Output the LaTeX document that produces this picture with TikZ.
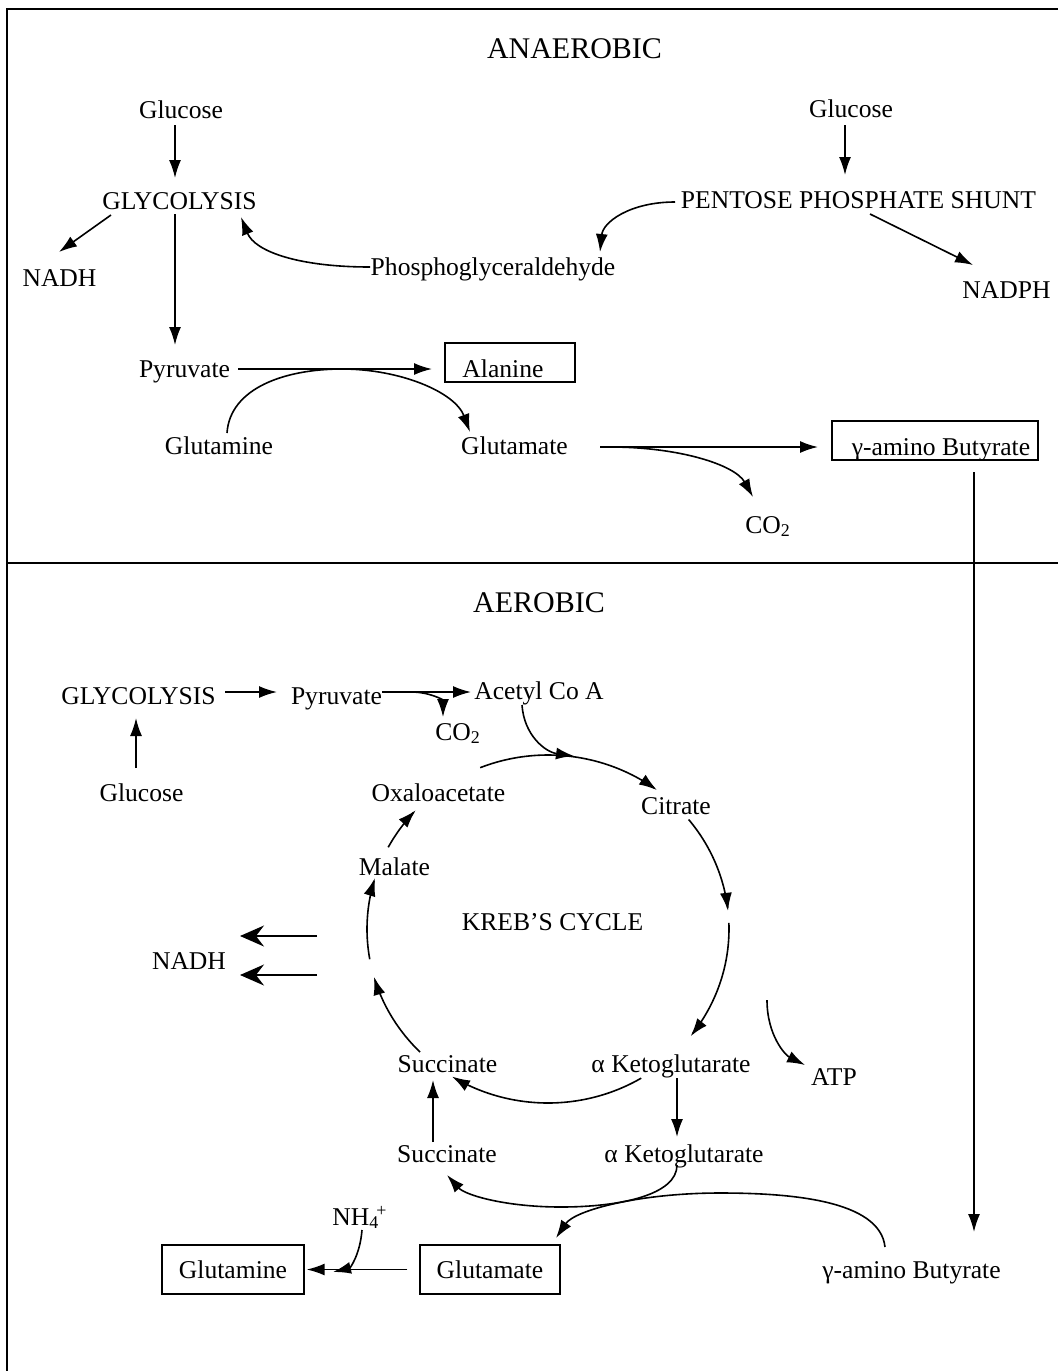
\documentclass[tikz,border=0pt]{standalone}
\usepackage{fontspec}
\setmainfont{Liberation Serif}
\usetikzlibrary{arrows.meta}
\begin{document}
\begin{tikzpicture}[x=0.5pt,y=-0.5pt,
  lbl/.style={inner sep=0pt, anchor=base, font=\fontsize{12.8}{15}\selectfont},
  ttl/.style={inner sep=0pt, anchor=base, font=\fontsize{15}{18}\selectfont},
  boxn/.style={draw, line width=0.65pt, inner sep=0pt, font=\fontsize{12.8}{15}\selectfont},
  arr/.style={line width=0.8pt, -{Latex[length=9pt,width=6pt]}},
  bigarr/.style={line width=0.8pt, -{Stealth[length=12pt,width=10.5pt,inset=4pt]}},
  frame/.style={line width=0.9pt}]
\useasboundingbox (0,0) rectangle (1058,1371);
% frame
\draw[frame] (7,1371) -- (7,9) -- (1058,9);
\draw[frame] (7,563) -- (1058,563);

% ---------- ANAEROBIC ----------
\node[ttl] (tana) at (574.5,58) {ANAEROBIC};
\node[lbl] (glcA) at (181,118) {Glucose};
\node[lbl] (glyA) at (179.5,209) {GLYCOLYSIS};
\node[lbl] (nadhA) at (59.5,286) {NADH};
\node[lbl] (glcB) at (851,117) {Glucose};
\node[lbl] (pps) at (858.5,208) {PENTOSE PHOSPHATE SHUNT};
\node[lbl] (nadph) at (1006.5,298) {NADPH};
\node[lbl] (pga) at (493,275) {Phosphoglyceraldehyde};
\node[lbl] (pyrA) at (184.5,377) {Pyruvate};
\node[boxn, minimum width=65pt, minimum height=19.5pt] (alabox) at (510,362.5) {};
\node[lbl, anchor=base west] (ala) at (462,377) {Alanine};
\node[lbl] (glnA) at (219,454) {Glutamine};
\node[lbl] (gluA) at (514.5,454) {Glutamate};
\node[boxn, minimum width=103pt, minimum height=19.5pt] (gababox) at (935,440.5) {};
\node[lbl] (gabaA) at (941,455) {γ-amino Butyrate};
\node[lbl, anchor=base west] (co2A) at (745,533) {CO\textsubscript{2}};

\coordinate (a1s) at (175,125);  \coordinate (a1e) at (175,178);
\coordinate (a2s) at (111,215);  \coordinate (a2e) at (59,252);
\coordinate (a3s) at (175,214);  \coordinate (a3e) at (175,345);
\coordinate (a4s) at (845,125);  \coordinate (a4e) at (845,175);
\coordinate (a5s) at (870,214);  \coordinate (a5e) at (973,265);
\coordinate (a6s) at (675,202);  \coordinate (a6e) at (600,252);
\coordinate (a7s) at (370,267);  \coordinate (a7e) at (241,217);
\coordinate (a8s) at (238,369);  \coordinate (a8e) at (432,369);
\coordinate (a9s) at (227,433);  \coordinate (a9m) at (342,369); \coordinate (a9e) at (470,432);
\coordinate (a10s) at (600,447); \coordinate (a10e) at (818,447);
\coordinate (a11s) at (610,447); \coordinate (a11e) at (753,497);
\coordinate (a12s) at (974,472); \coordinate (a12e) at (974,1232);

\draw[arr] (a1s) -- (a1e);
\draw[arr] (a2s) -- (a2e);
\draw[arr] (a3s) -- (a3e);
\draw[arr] (a4s) -- (a4e);
\draw[arr] (a5s) -- (a5e);
\draw[arr] (a6s) .. controls (630,202) and (603,222) .. (a6e);
\draw[arr] (a7s) .. controls (300,267) and (255,252) .. (a7e);
\draw[arr] (a8s) -- (a8e);
\draw[arr] (a9s) .. controls (230,388) and (285,369) .. (a9m) .. controls (400,369) and (455,392) .. (a9e);
\draw[arr] (a10s) -- (a10e);
\draw[arr] (a11s) .. controls (680,447) and (735,465) .. (a11e);
\draw[arr] (a12s) -- (a12e);

% ---------- AEROBIC ----------
\node[ttl] (taer) at (539,612) {AEROBIC};
\node[lbl] (glyB) at (138.5,704) {GLYCOLYSIS};
\node[lbl] (pyrB) at (336.5,704) {Pyruvate};
\node[lbl] (acoa) at (539,699) {Acetyl Co A};
\node[lbl, anchor=base west] (co2B) at (435,740) {CO\textsubscript{2}};
\node[lbl] (glcC) at (141.5,801) {Glucose};
\node[lbl] (oaa) at (438.5,801) {Oxaloacetate};
\node[lbl] (cit) at (676,814) {Citrate};
\node[lbl] (mal) at (394.5,875) {Malate};
\node[lbl] (kreb) at (552.5,930) {KREB’S CYCLE};
\node[lbl] (nadhB) at (189,969) {NADH};
\node[lbl] (suc1) at (447.5,1072) {Succinate};
\node[lbl] (akg1) at (671,1072) {α Ketoglutarate};
\node[lbl] (atp) at (834,1085) {ATP};
\node[lbl] (suc2) at (447,1162) {Succinate};
\node[lbl] (akg2) at (684,1162) {α Ketoglutarate};
\node[lbl, anchor=base west] (nh4) at (332,1225) {NH\textsubscript{4}\kern-1.5pt\textsuperscript{+}};
\node[boxn, minimum width=71pt, minimum height=24.5pt] (glnB) at (233,1269.5) {Glutamine};
\node[boxn, minimum width=70pt, minimum height=24.5pt] (gluB) at (490,1269.5) {Glutamate};
\node[lbl] (gabaB) at (911.5,1278) {γ-amino Butyrate};

\coordinate (b1s) at (225,692);  \coordinate (b1e) at (277,692);
\coordinate (b2s) at (382,692);  \coordinate (b2e) at (471,692);
\coordinate (b3s) at (411,692);  \coordinate (b3e) at (443,717);
\coordinate (b4s) at (136,768);  \coordinate (b4e) at (136,718);
\coordinate (b5s) at (522,705);  \coordinate (b5e) at (574,756);
\coordinate (n1s) at (317,936);  \coordinate (n1e) at (240,936);
\coordinate (n2s) at (317,975);  \coordinate (n2e) at (240,975);
\coordinate (atps) at (767,1000); \coordinate (atpe) at (805,1065);
\coordinate (k1s) at (677,1078); \coordinate (k1e) at (677,1137);
\coordinate (s2s) at (433,1142); \coordinate (s2e) at (433,1080);
\coordinate (k2s) at (677,1165); \coordinate (k2m) at (561,1207); \coordinate (k2e) at (447,1175);
\coordinate (g2s) at (885,1247); \coordinate (g2m) at (720,1193); \coordinate (g2e) at (556,1238);
\coordinate (nhs) at (362,1230); \coordinate (nhe) at (333,1272);

\draw[arr] (b1s) -- (b1e);
\draw[arr] (b2s) -- (b2e);
\draw[arr] (b3s) .. controls (430,692) and (443,700) .. (b3e);
\draw[arr] (b4s) -- (b4e);
\draw[arr] (b5s) .. controls (524,735) and (545,752) .. (b5e);

% Krebs cycle arcs (centre 548,929)
\draw[arr] plot[domain=112:53, samples=40, smooth] ({548+181*cos(\x)},{929-174*sin(\x)});
\draw[arr] plot[domain=39:6, samples=30, smooth] ({548+181*cos(\x)},{929-174*sin(\x)});
\draw[arr] plot[domain=2:-38, samples=30, smooth] ({548+181*cos(\x)},{929-174*sin(\x)});
\draw[arr] plot[domain=-59:-122, samples=40, smooth] ({548+181*cos(\x)},{929-174*sin(\x)});
\draw[arr] plot[domain=-135:-164, samples=25, smooth] ({548+181*cos(\x)},{929-174*sin(\x)});
\draw[arr] plot[domain=-170:-197, samples=25, smooth] ({548+181*cos(\x)},{929-174*sin(\x)});
\draw[arr] plot[domain=152:137, samples=15, smooth] ({548+181*cos(\x)},{929-174*sin(\x)});

\draw[bigarr] (n1s) -- (n1e);
\draw[bigarr] (n2s) -- (n2e);
\draw[arr] (atps) .. controls (767,1035) and (785,1055) .. (atpe);
\draw[arr] (k1s) -- (k1e);
\draw[arr] (s2s) -- (s2e);
\draw[arr] (k2s) .. controls (677,1195) and (620,1207) .. (k2m) .. controls (505,1207) and (465,1195) .. (k2e);
\draw[arr] (g2s) .. controls (880,1200) and (790,1193) .. (g2m) .. controls (640,1193) and (575,1210) .. (g2e);
\draw[arr] (nhs) .. controls (360,1255) and (350,1268) .. (nhe);
\draw[arr, shorten <=6pt, shorten >=1pt] (gluB.west) -- (glnB.east);
\end{tikzpicture}
\end{document}
